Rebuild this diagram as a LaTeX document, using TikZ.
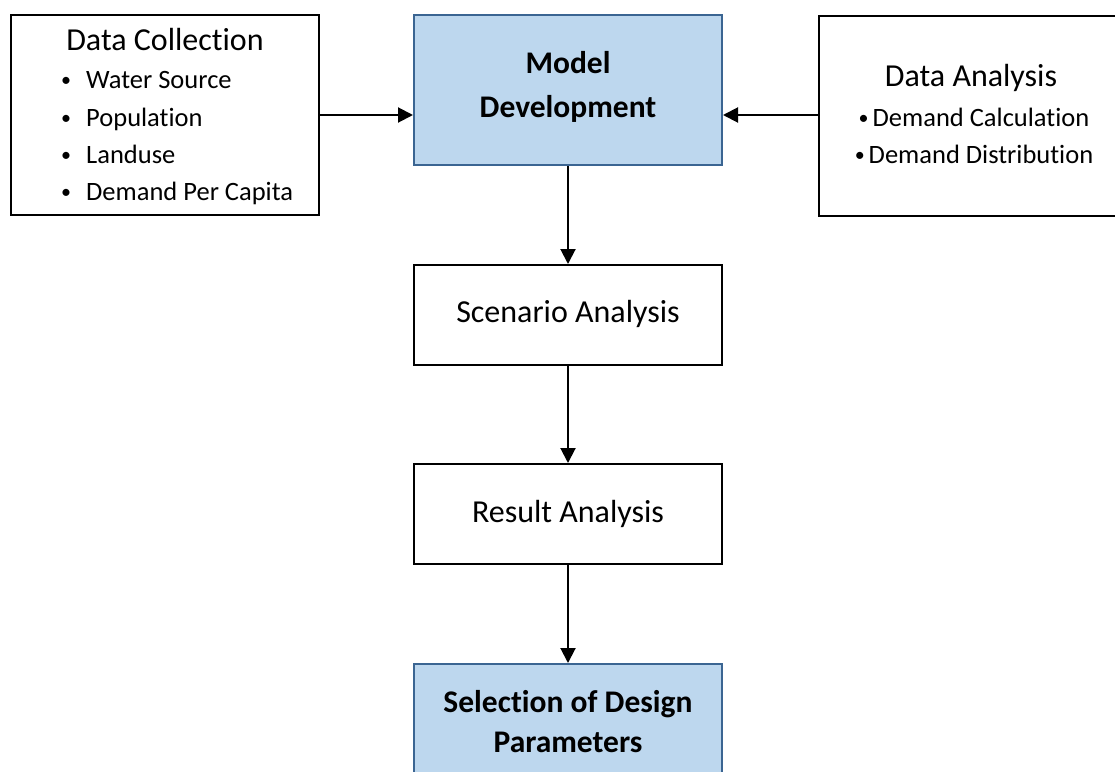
\documentclass[tikz,border=0pt]{standalone}
\usepackage{fontspec}
\setmainfont{Carlito}[Ligatures=NoCommon]
\usetikzlibrary{arrows.meta}
\definecolor{stepfill}{HTML}{BDD7EE}
\definecolor{stepline}{HTML}{3B6592}
\newcommand{\smallbul}{\raisebox{1.5pt}{\fontsize{20}{20}\selectfont •}}
\tikzset{
  plainbox/.style={draw=black, line width=2pt, fill=white, inner sep=0pt},
  keybox/.style={draw=stepline, line width=2pt, fill=stepfill, inner sep=0pt},
  flow/.style={line width=2pt, -{Triangle[length=15pt,width=15pt]}},
  txt/.style={inner sep=0pt, font=\fontsize{32}{38}\selectfont},
  itm/.style={inner sep=0pt, anchor=base west, font=\fontsize{26.5}{32}\selectfont},
  btxt/.style={inner sep=0pt, font=\bfseries\fontsize{31.5}{38}\selectfont},
}
\begin{document}
\begin{tikzpicture}[x=1pt,y=-1pt]
\useasboundingbox (0,0) rectangle (1115,771);
\clip (0,0) rectangle (1115,771);

% boxes
\node[plainbox, minimum width=308pt, minimum height=200pt] (dc) at (165,115) {};
\node[keybox, minimum width=308pt, minimum height=150pt] (md) at (568,90) {};
\node[plainbox, minimum width=298pt, minimum height=200pt, anchor=north west] (da) at (818,15) {};
\node[plainbox, minimum width=308pt, minimum height=100pt] (sa) at (568,315) {};
\node[plainbox, minimum width=308pt, minimum height=100pt] (ra) at (568,514) {};
\node[keybox, minimum width=308pt, minimum height=150pt, anchor=north] (sd) at (568,663) {};

% data collection
\node[txt, anchor=base] (dct) at (165,50) {Data Collection};
\node[itm] (dc1) at (86,88) {\llap{\smallbul\hspace{15pt}}Water Source};
\node[itm] (dc2) at (86,126) {\llap{\smallbul\hspace{15pt}}Population};
\node[itm] (dc3) at (86,163) {\llap{\smallbul\hspace{15pt}}Landuse};
\node[itm] (dc4) at (86,200) {\llap{\smallbul\hspace{15pt}}Demand Per Capita};

% model development
\node[btxt, anchor=base] (mdt1) at (568,73) {Model};
\node[btxt, anchor=base] (mdt2) at (568,117) {Development};

% data analysis
\node[txt, anchor=base] (dat) at (971,86) {Data Analysis};
\node[itm, anchor=base] (da1) at (974,126) {\smallbul\hspace{4pt}Demand Calculation};
\node[itm, anchor=base] (da2) at (974,163) {\smallbul\hspace{4pt}Demand Distribution};

% middle steps
\node[txt, anchor=base] (sat) at (568,322) {Scenario Analysis};
\node[txt, anchor=base] (rat) at (568,522) {Result Analysis};
\node[btxt, anchor=base] (sdt1) at (568,712) {Selection of Design};
\node[btxt, anchor=base] (sdt2) at (568,752) {Parameters};

% side inputs meet the model box at the height of the left box centre
\coordinate (mdl) at (md.west |- dc.east);
\coordinate (mdr) at (md.east |- dc.east);
\coordinate (dal) at (da.west |- dc.east);

% connectors
\draw[flow] (dc.east) -- (mdl);
\draw[flow] (dal) -- (mdr);
\draw[flow] (md.south) -- (sa.north);
\draw[flow] (sa.south) -- (ra.north);
\draw[flow] (ra.south) -- (sd.north);
\end{tikzpicture}
\end{document}
